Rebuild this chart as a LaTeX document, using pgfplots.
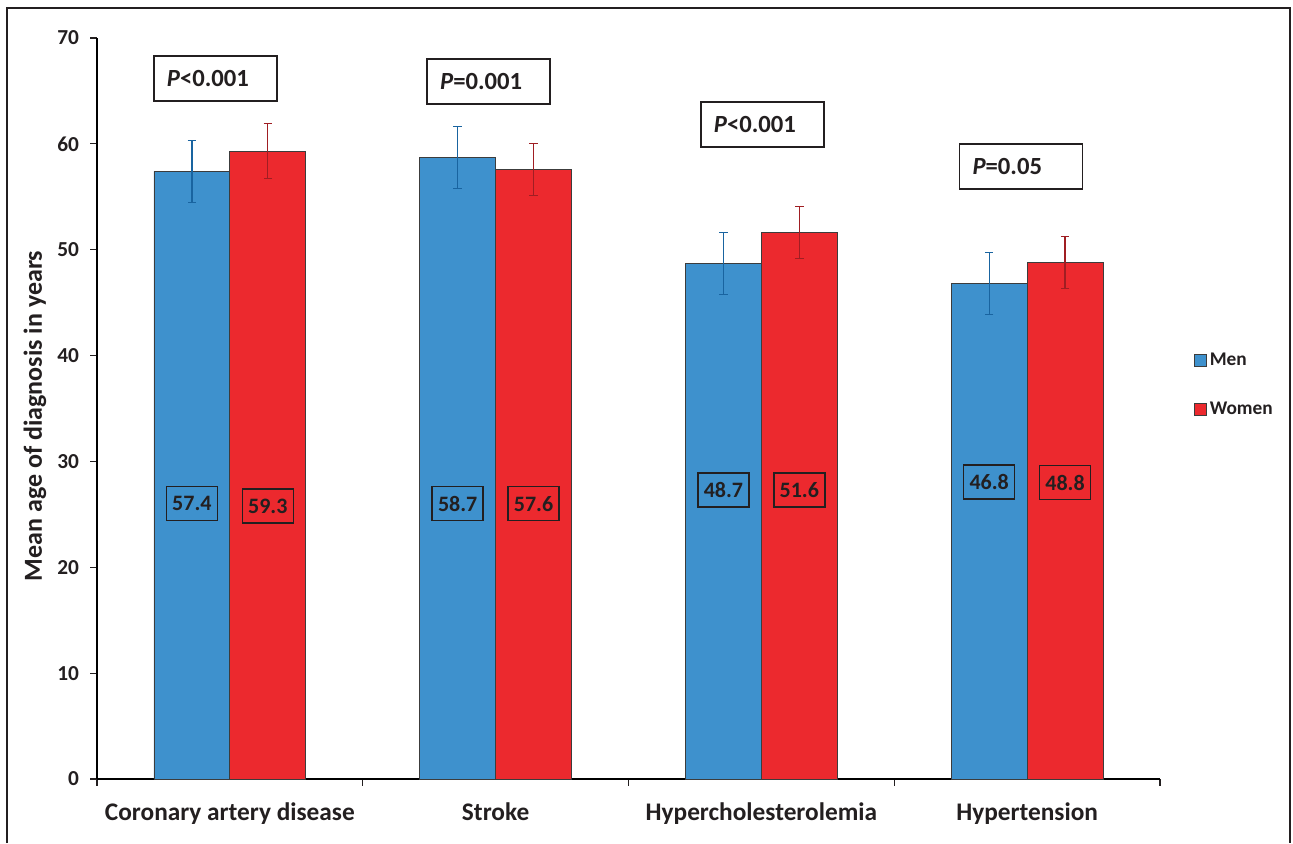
\documentclass[border=0pt]{standalone}
\usepackage{fontspec}
\setmainfont{Carlito}
\usepackage{pgfplots}
\usepackage{pgfplotstable}
\pgfplotsset{compat=1.18}

\definecolor{menblue}{RGB}{62,145,205}
\definecolor{womenred}{RGB}{236,41,46}
\definecolor{menerr}{RGB}{25,100,160}
\definecolor{womenerr}{RGB}{160,30,35}
\definecolor{inkgray}{RGB}{35,31,32}
\definecolor{edgegray}{RGB}{60,60,60}

% mean age at diagnosis and error-bar half widths;
% xm / xw are the bar centres of the two groups
\pgfplotstableread{
xm xw men menerr women womenerr
-0.142857 0.142857 57.4 2.95 59.3 2.60
0.857143 1.142857 58.7 2.95 57.6 2.45
1.857143 2.142857 48.7 2.95 51.6 2.45
2.857143 3.142857 46.8 2.95 48.8 2.45
}\agedata

\tikzset{
  pbox/.style={draw=inkgray, line width=1pt, fill=white, text=inkgray,
    minimum height=33.75pt, text width=72.75pt, inner xsep=9.75pt,
    inner ysep=0pt, align=left, font=\bfseries\fontsize{18.5}{20}\selectfont},
}
\pgfplotsset{
  sqlegend/.style={legend image code/.code={
    \draw[##1, draw=edgegray, line width=0.6pt] (0pt,-4.5pt) rectangle (9pt,4.5pt);}},
  vallabel/.style={draw=none, forget plot, nodes near coords,
    point meta=explicit symbolic,
    every node near coord/.append style={anchor=center, draw=inkgray,
      line width=1pt, text=inkgray, inner sep=0pt,
      minimum width=38.25pt, minimum height=25.5pt,
      font=\bfseries\fontsize{16.5}{18}\selectfont}},
  errs/.style={error bars/.cd, y dir=both, y explicit,
    error bar style={draw=#1, line width=0.9pt},
    error mark=-,
    error mark options={rotate=90, draw=#1, line width=0.9pt, mark size=3.2pt}},
}

\begin{document}
\begin{tikzpicture}
\useasboundingbox (0,0) rectangle (969.75pt,632.25pt);
\draw[inkgray, line width=1.4pt] (5.25pt,0) -- (5.25pt,626.25pt) -- (967.5pt,626.25pt) -- (967.5pt,0);
\begin{axis}[
  at={(72.75pt,48pt)}, anchor=south west,
  scale only axis, width=797.25pt, height=555.75pt,
  xmin=-0.5, xmax=3.5, ymin=0, ymax=70,
  axis lines*=left,
  axis line style={black, line width=1.5pt},
  ytick={0,10,...,70},
  xtick={-0.5,0.5,1.5,2.5,3.5},
  xticklabels={},
  extra x ticks={0,1,2,3},
  extra x tick labels={Coronary artery disease, Stroke, Hypercholesterolemia, Hypertension},
  extra x tick style={major tick length=0pt},
  tick align=outside,
  major tick length=5pt,
  tick style={inkgray, line width=0.9pt},
  /pgf/number format/assume math mode=true,
  yticklabel style={font=\bfseries\fontsize{16}{18}\selectfont, text=inkgray, xshift=-5pt},
  xticklabel style={font=\bfseries\fontsize{19}{21}\selectfont, text=inkgray, yshift=-14pt},
  ylabel={Mean age of diagnosis in years},
  every axis y label/.style={at={(axis description cs:-0.0583,0.49)}, rotate=90, anchor=center,
    font=\bfseries\fontsize{19.5}{21}\selectfont, text=inkgray},
  legend style={at={(axis description cs:1.032,0.532)}, anchor=west, draw=none, fill=none,
    font=\bfseries\fontsize{14.5}{16}\selectfont, text=inkgray, row sep=22pt, inner sep=0pt},
  legend cell align=left,
  clip=false,
]
\addplot[ybar, bar width=57pt, bar shift=0pt, fill=menblue, draw=edgegray, line width=0.6pt,
  sqlegend, errs=menerr]
  table[x=xm, y=men, y error=menerr]{\agedata};
\addlegendentry{Men}
\addplot[ybar, bar width=57pt, bar shift=0pt, fill=womenred, draw=edgegray, line width=0.6pt,
  sqlegend, errs=womenerr]
  table[x=xw, y=women, y error=womenerr]{\agedata};
\addlegendentry{Women}

% value boxes inside the bars
\addplot[vallabel] coordinates {
  (-0.142857,26.03) [57.4]
  (0.857143,26.0) [58.7]
  (1.857143,27.3) [48.7]
  (2.857143,28.06) [46.8]
};
\addplot[vallabel] coordinates {
  (0.142857,25.79) [59.3]
  (1.142857,26.0) [57.6]
  (2.142857,27.3) [51.6]
  (3.142857,28.0) [48.8]
};

% significance boxes
\node[pbox] at (axis cs:-0.0545,66.17) {\textit{P}<0.001};
\node[pbox] at (axis cs:0.9737,65.89) {\textit{P}=0.001};
\node[pbox] at (axis cs:2.0038,61.83) {\textit{P}<0.001};
\node[pbox] at (axis cs:2.977,57.86) {\textit{P}=0.05};
\end{axis}
\end{tikzpicture}
\end{document}
